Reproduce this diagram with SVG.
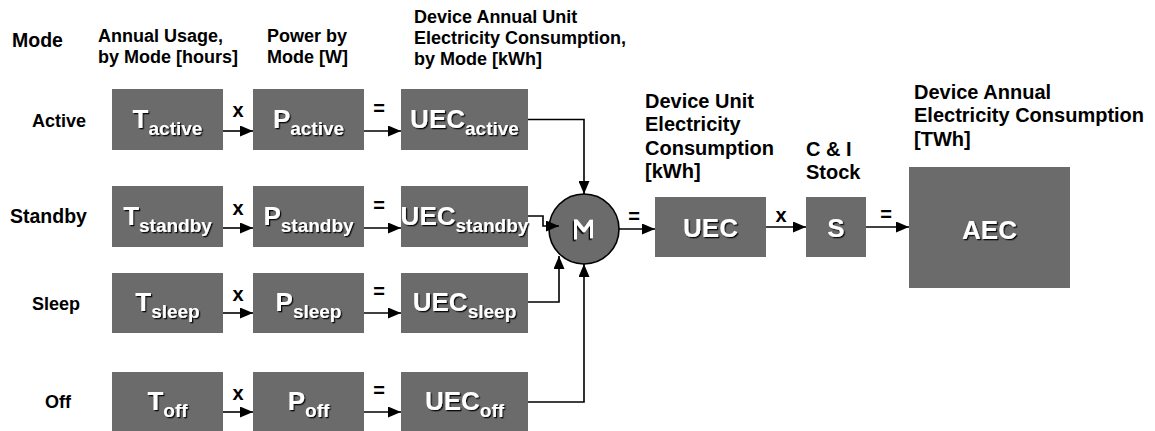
<svg xmlns="http://www.w3.org/2000/svg" width="1155" height="431" viewBox="0 0 1155 431">
<style>
  .hdr { font-family: "Liberation Sans", Arial, sans-serif; font-weight: bold; font-size: 18px; fill: #000; }
  .big { font-size: 20px; }
  .box { fill: #6b6b6b; }
  .lbl { font-family: "Liberation Sans", Arial, sans-serif; font-weight: bold; font-size: 26px; fill: #fff; text-anchor: middle; filter: url(#sh); }
  .sub { font-size: 19px; }
  .op { font-family: "Liberation Sans", Arial, sans-serif; font-weight: bold; font-size: 20px; fill: #000; text-anchor: middle; }
  .ln { fill: none; stroke: #000; stroke-width: 1.6; }
</style>
<defs>
  <filter id="sh" x="-10%" y="-10%" width="130%" height="130%">
    <feDropShadow dx="1.3" dy="1.3" stdDeviation="0" flood-color="#000" flood-opacity="0.9"/>
  </filter>
  <marker id="ah" viewBox="0 0 13 11" refX="13" refY="5.5" markerWidth="13" markerHeight="11" markerUnits="userSpaceOnUse" orient="auto">
    <path d="M0,0 L13,5.5 L0,11 Z" fill="#000"/>
  </marker>
</defs>
<rect width="1155" height="431" fill="#fff"/>

<g id="headers">
  <text class="hdr" x="12" y="47" style="font-size:19.5px">Mode</text>
  <text class="hdr" x="98" y="42">Annual Usage,</text>
  <text class="hdr" x="98" y="63">by Mode [hours]</text>
  <text class="hdr" x="267" y="42">Power by</text>
  <text class="hdr" x="267" y="63">Mode [W]</text>
  <text class="hdr" x="414" y="23">Device Annual Unit</text>
  <text class="hdr" x="414" y="44">Electricity Consumption,</text>
  <text class="hdr" x="414" y="65">by Mode [kWh]</text>
  <text class="hdr big" x="645" y="108">Device Unit</text>
  <text class="hdr big" x="645" y="131">Electricity</text>
  <text class="hdr big" x="645" y="155">Consumption</text>
  <text class="hdr big" x="645" y="178">[kWh]</text>
  <text class="hdr big" x="806" y="156">C &amp; I</text>
  <text class="hdr big" x="806" y="179">Stock</text>
  <text class="hdr big" x="914" y="99">Device Annual</text>
  <text class="hdr big" x="914" y="122">Electricity Consumption</text>
  <text class="hdr big" x="914" y="146">[TWh]</text>
</g>

<g id="modes">
  <text class="hdr" x="32" y="127">Active</text>
  <text class="hdr" x="10" y="223" style="font-size:19.5px">Standby</text>
  <text class="hdr" x="32" y="310">Sleep</text>
  <text class="hdr" x="45" y="408">Off</text>
</g>

<g id="T_active"><rect class="box" x="112" y="89" width="111" height="61"/><text class="lbl" x="167.5" y="128">T<tspan class="sub" dy="7">active</tspan></text></g>
<g id="P_active"><rect class="box" x="253" y="89" width="111" height="61"/><text class="lbl" x="308.5" y="128">P<tspan class="sub" dy="7">active</tspan></text></g>
<g id="UEC_active"><rect class="box" x="401" y="89" width="127" height="61"/><text class="lbl" x="464.5" y="128">UEC<tspan class="sub" dy="7">active</tspan></text></g>

<g id="T_standby"><rect class="box" x="112" y="186" width="111" height="61"/><text class="lbl" x="167.5" y="225">T<tspan class="sub" dy="7">standby</tspan></text></g>
<g id="P_standby"><rect class="box" x="253" y="186" width="111" height="61"/><text class="lbl" x="308.5" y="225">P<tspan class="sub" dy="7">standby</tspan></text></g>
<g id="UEC_standby"><rect class="box" x="401" y="186" width="127" height="61"/><text class="lbl" x="464.5" y="225">UEC<tspan class="sub" dy="7">standby</tspan></text></g>

<g id="T_sleep"><rect class="box" x="112" y="273" width="111" height="60"/><text class="lbl" x="167.5" y="311">T<tspan class="sub" dy="7">sleep</tspan></text></g>
<g id="P_sleep"><rect class="box" x="253" y="273" width="111" height="60"/><text class="lbl" x="308.5" y="311">P<tspan class="sub" dy="7">sleep</tspan></text></g>
<g id="UEC_sleep"><rect class="box" x="401" y="273" width="127" height="60"/><text class="lbl" x="464.5" y="311">UEC<tspan class="sub" dy="7">sleep</tspan></text></g>

<g id="T_off"><rect class="box" x="112" y="372" width="111" height="60"/><text class="lbl" x="167.5" y="410">T<tspan class="sub" dy="7">off</tspan></text></g>
<g id="P_off"><rect class="box" x="253" y="372" width="111" height="60"/><text class="lbl" x="308.5" y="410">P<tspan class="sub" dy="7">off</tspan></text></g>
<g id="UEC_off"><rect class="box" x="401" y="372" width="127" height="60"/><text class="lbl" x="464.5" y="410">UEC<tspan class="sub" dy="7">off</tspan></text></g>

<g id="sum"><circle cx="584" cy="229" r="35" fill="#6b6b6b" stroke="#000" stroke-width="1.6"/><text class="lbl" x="0" y="0" transform="translate(584,229) rotate(90) scale(1.35,1)" dy="10" style="font-size:28px">Σ</text></g>

<g id="UEC"><rect class="box" x="655" y="197" width="111" height="60"/><text class="lbl" x="710.5" y="237">UEC</text></g>
<g id="S"><rect class="box" x="806" y="197" width="60" height="60"/><text class="lbl" x="836" y="237">S</text></g>
<g id="AEC"><rect class="box" x="909" y="167" width="161" height="121"/><text class="lbl" x="989.5" y="239">AEC</text></g>

<g id="connectors">
  <path class="ln" d="M223,131 H253" marker-end="url(#ah)"/>
  <path class="ln" d="M364,131 H401" marker-end="url(#ah)"/>
  <path class="ln" d="M223,228 H253" marker-end="url(#ah)"/>
  <path class="ln" d="M364,228 H401" marker-end="url(#ah)"/>
  <path class="ln" d="M223,313 H253" marker-end="url(#ah)"/>
  <path class="ln" d="M364,313 H401" marker-end="url(#ah)"/>
  <path class="ln" d="M223,412 H253" marker-end="url(#ah)"/>
  <path class="ln" d="M364,412 H401" marker-end="url(#ah)"/>

  <path class="ln" d="M528,119.5 H584 V194" marker-end="url(#ah)"/>
  <path class="ln" d="M528,216 H543 V226 H559" marker-end="url(#ah)"/>
  <path class="ln" d="M528,302 H559 V256" marker-end="url(#ah)"/>
  <path class="ln" d="M528,402 H584 V264" marker-end="url(#ah)"/>

  <path class="ln" d="M619,229 H655" marker-end="url(#ah)"/>
  <path class="ln" d="M766,227 H806" marker-end="url(#ah)"/>
  <path class="ln" d="M866,227 H909" marker-end="url(#ah)"/>

  <text class="op" x="238" y="117">x</text>
  <text class="op" x="379" y="115">=</text>
  <text class="op" x="238" y="215">x</text>
  <text class="op" x="379" y="212">=</text>
  <text class="op" x="238" y="301">x</text>
  <text class="op" x="379" y="298">=</text>
  <text class="op" x="238" y="400">x</text>
  <text class="op" x="379" y="397">=</text>
  <text class="op" x="634" y="223">=</text>
  <text class="op" x="781" y="222">x</text>
  <text class="op" x="886" y="221">=</text>
</g>
</svg>
